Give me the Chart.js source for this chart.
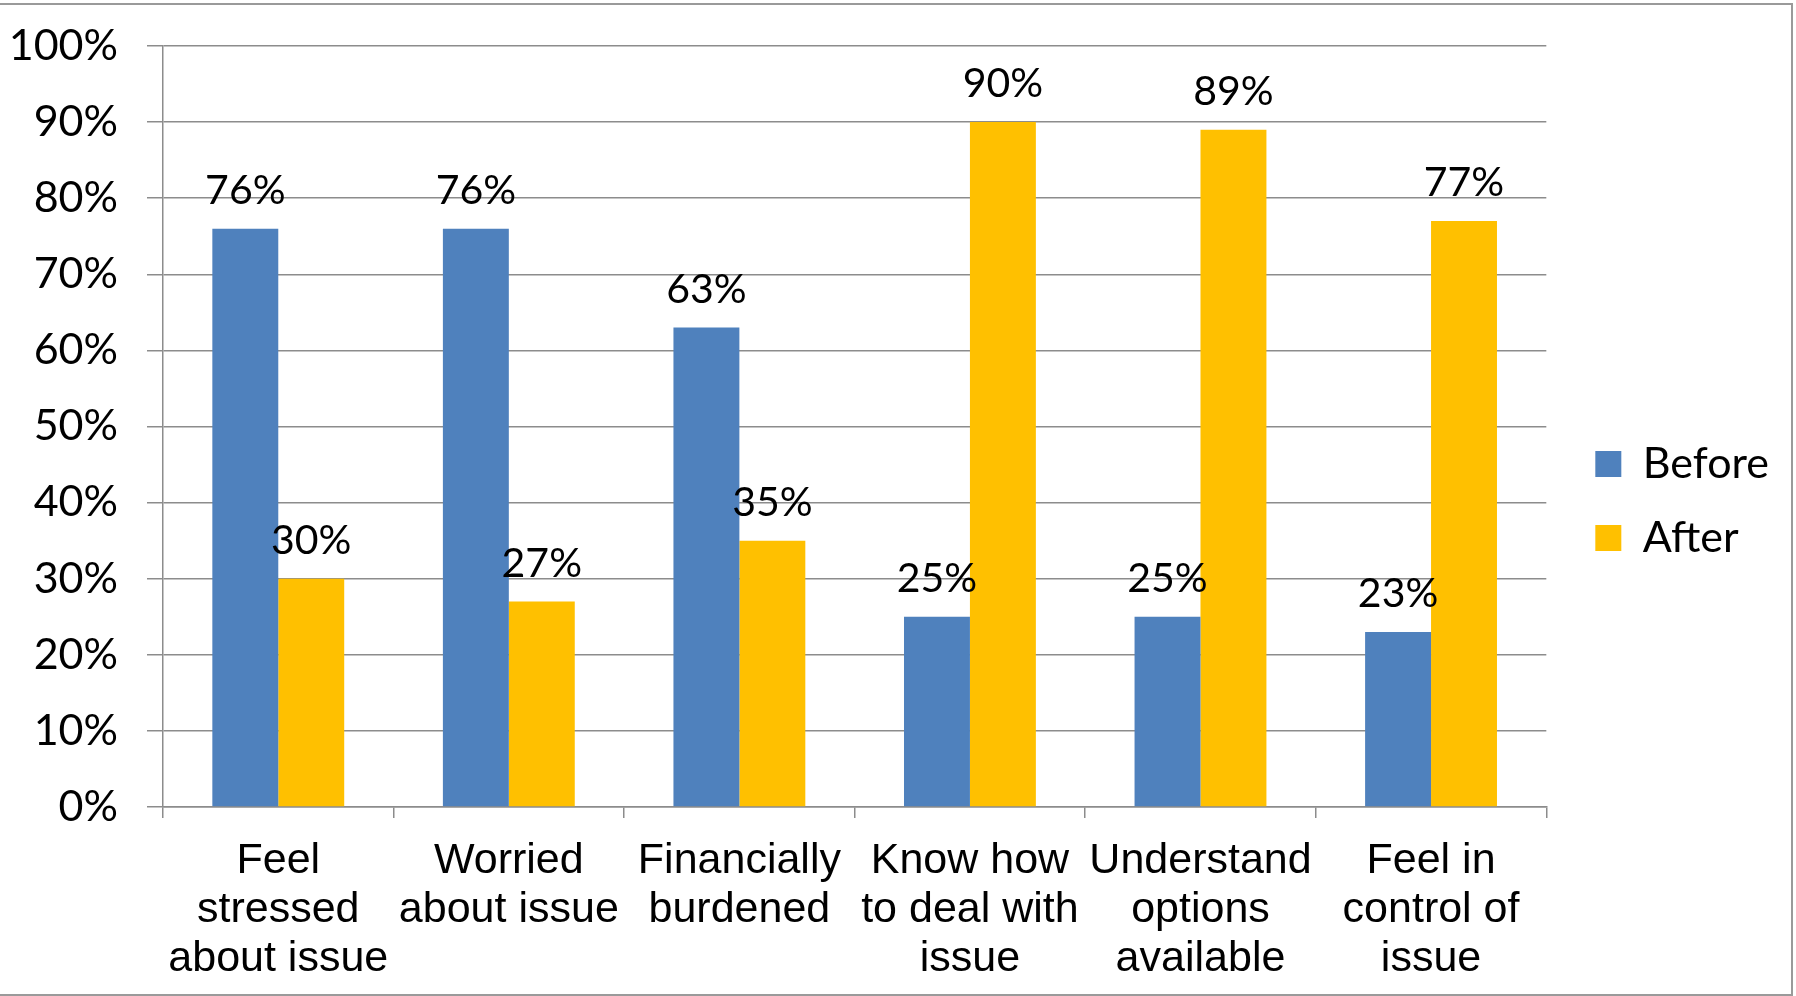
<!DOCTYPE html>
<html>
<head>
<meta charset="utf-8">
<script src="https://cdn.jsdelivr.net/npm/chart.js@4.4.1/dist/chart.umd.min.js"></script>
<style>
  html, body { margin: 0; padding: 0; background: #fff; }
  #wrap { width: 1796px; height: 996px; }
</style>
</head>
<body>
<div id="wrap"><canvas id="myChart" width="1796" height="996"></canvas></div>
<script>
// categories (multi-line labels)
const categories = [
  ['Feel', 'stressed', 'about issue'],
  ['Worried', 'about issue'],
  ['Financially', 'burdened'],
  ['Know how', 'to deal with', 'issue'],
  ['Understand', 'options', 'available'],
  ['Feel in', 'control of', 'issue']
]
// percentages
const beforeValues = [76, 76, 63, 25, 25, 23]
const afterValues = [30, 27, 35, 90, 89, 77]
const seriesNames = ['Before', 'After']
const yTicks = [0, 10, 20, 30, 40, 50, 60, 70, 80, 90, 100]

const gridGray = '#8c8c8c'

// frame round the chart, white background
const framePlugin = {
  id: 'frame',
  beforeDraw(chart) {
    const c = chart.ctx
    c.save()
    c.fillStyle = '#fff'
    c.fillRect(0, 0, chart.width, chart.height)
    c.strokeStyle = '#9a9a9a'
    c.lineWidth = 2
    c.beginPath()
    c.moveTo(0, 4)
    c.lineTo(chart.width - 4, 4)
    c.lineTo(chart.width - 4, chart.height - 1)
    c.lineTo(0, chart.height - 1)
    c.stroke()
    c.restore()
  }
}

// value labels above each bar
const valueLabels = {
  id: 'valueLabels',
  afterDatasetsDraw(chart) {
    const c = chart.ctx
    c.save()
    c.font = '41px Lato'
    c.fillStyle = '#000'
    c.textAlign = 'center'
    c.textBaseline = 'alphabetic'
    chart.data.datasets.forEach((ds, i) => {
      chart.getDatasetMeta(i).data.forEach((bar, j) => {
        c.fillText(ds.data[j] + '%', bar.x, bar.y - 25)
      })
    })
    c.restore()
  }
}

// legend sits a bit further from the plot than its item padding
const legendNudge = {
  id: 'legendNudge',
  afterLayout(chart) {
    const lg = chart.legend
    lg.left += 18
    lg.right += 18
    lg.top -= 20
    lg.bottom -= 20
  }
}

new Chart('myChart', {
  type: 'bar',
  data: {
    labels: categories,
    datasets: [
      { label: seriesNames[0], data: beforeValues, backgroundColor: '#4F81BD' },
      { label: seriesNames[1], data: afterValues, backgroundColor: '#FFC000' }
    ]
  },
  options: {
    responsive: false,
    animation: false,
    layout: { padding: { top: 46, right: 35, bottom: 0, left: 0 } },
    datasets: { bar: { categoryPercentage: 0.572, barPercentage: 1.0 } },
    plugins: {
      tooltip: { enabled: false },
      legend: {
        position: 'right',
        labels: {
          boxWidth: 26,
          boxHeight: 26,
          padding: 31,
          color: '#000',
          font: { family: 'Lato', size: 43 }
        }
      }
    },
    scales: {
      x: {
        offset: true,
        grid: { offset: true, drawOnChartArea: false, drawTicks: true, tickLength: 11, color: gridGray, lineWidth: 1.5 },
        border: { color: gridGray, width: 1.5 },
        ticks: {
          autoSkip: false, maxRotation: 0, minRotation: 0, padding: 18,
          color: '#000',
          font: { family: 'Liberation Sans', size: 43, lineHeight: 1.15 }
        },
        afterFit(scale) { scale.height = 189 }
      },
      y: {
        min: 0, max: 100,
        afterBuildTicks(scale) { scale.ticks = yTicks.map(v => ({ value: v })) },
        grid: { color: gridGray, lineWidth: 1.5, tickLength: 16 },
        border: { color: gridGray, width: 1.5 },
        ticks: {
          padding: 29,
          color: '#000',
          font: { family: 'Lato', size: 43 },
          callback: v => v + '%'
        },
        afterFit(scale) {
          scale.width = 163
          scale.paddingTop = 0
          scale.paddingBottom = 0
        }
      }
    }
  },
  plugins: [framePlugin, valueLabels, legendNudge]
})
</script>
</body>
</html>
